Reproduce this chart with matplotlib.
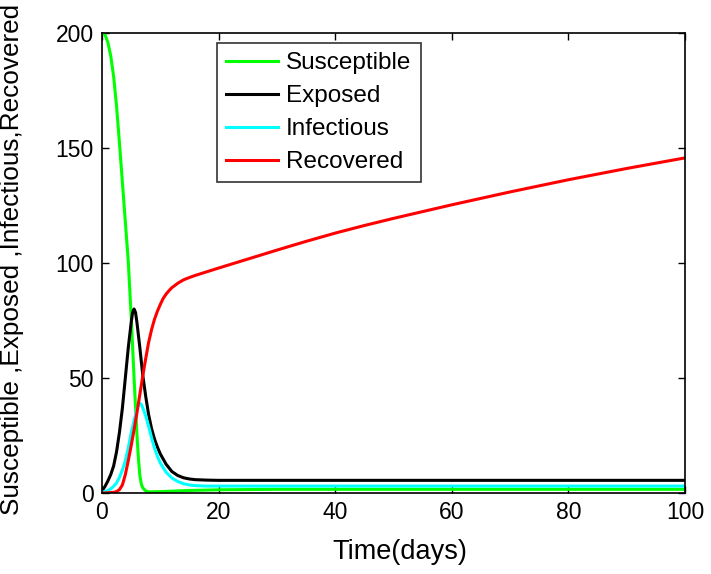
import matplotlib
matplotlib.use("Agg")
import matplotlib.pyplot as plt

plt.rcParams['font.family'] = ['Liberation Sans', 'DejaVu Sans']

t_s = [0, 0.5, 1, 1.5, 2, 2.5, 3, 3.5, 4, 4.5, 5, 5.5, 6, 6.25, 6.5, 6.75, 7, 7.5, 8,
       10, 12, 15, 20, 30, 100]
susceptible = [200, 199.3, 196, 190, 181, 168, 152, 135, 118, 101, 77, 50, 25, 15, 7.5, 3.8, 2.2, 0.9, 0.5,
               0.6, 0.8, 1.1, 1.4, 1.6, 1.6]

t_e = [0, 0.5, 1, 1.5, 2, 2.5, 3, 3.5, 4, 4.5, 5, 5.25, 5.5, 5.75, 6, 6.5, 7, 7.5, 8, 8.5, 9, 9.5,
       10, 11, 12, 13, 14, 15, 16, 17, 18, 20, 100]
exposed = [1, 2.8, 5.2, 8, 11.8, 18, 26.5, 37, 50, 63, 74, 78.5, 80, 78.5, 74, 63, 51, 42, 34, 28, 23.5, 20,
           17, 12.5, 9.3, 7.6, 6.6, 6.1, 5.8, 5.7, 5.6, 5.5, 5.5]

t_i = [0, 0.5, 1, 1.5, 2, 2.5, 3, 3.5, 4, 4.5, 5, 5.5, 6, 6.25, 6.5, 6.75, 7, 7.5, 8, 8.5, 9, 9.5,
       10, 11, 12, 13, 14, 15, 16, 18, 20, 100]
infectious = [0.3, 0.6, 1.1, 1.8, 2.9, 4.4, 6.8, 10, 14, 19.5, 26, 31.5, 36.5, 38.3, 39, 38.5, 37, 33.5, 29, 24,
              19.5, 16, 13, 9, 6.5, 5, 4, 3.5, 3.2, 3, 3, 3]

t_r = [0, 1, 2, 2.5, 3, 3.5, 4, 4.5, 5, 5.5, 6, 6.5, 7, 7.5, 8, 8.5, 9, 9.5, 10, 10.5, 11, 11.5, 12,
       13, 14, 15, 16, 18, 20, 25, 30, 35, 40, 45, 50, 60, 70, 80, 90, 100]
recovered = [0, 0.1, 0.3, 0.6, 1.5, 3.5, 8, 14, 20.5, 27.5, 35, 43, 51, 58.5, 65.5, 71, 75.5, 79, 82, 84.6,
             86.5, 88, 89.3, 91.2, 92.7, 93.7, 94.6, 96.2, 97.8, 101.7, 105.6, 109.4, 113, 116.3, 119.4,
             125.3, 130.9, 136.2, 141.1, 145.7]

labels = ['Susceptible', 'Exposed', 'Infectious', 'Recovered']
colors = ['#00ff00', '#000000', '#00ffff', '#ff0000']
xticks = [0, 20, 40, 60, 80, 100]
yticks = [0, 50, 100, 150, 200]

fig = plt.figure(figsize=(7.11, 5.74), dpi=100)
ax = fig.add_axes([102/711, 1 - 493/574, 583/711, 460/574])

for tt, y, lab, c in zip([t_s, t_e, t_i, t_r], [susceptible, exposed, infectious, recovered], labels, colors):
    ax.plot(tt, y, color=c, lw=2.2, label=lab, solid_joinstyle='round')

ax.set_xlim(0, 100)
ax.set_ylim(0, 200)
ax.set_xticks(xticks)
ax.set_yticks(yticks)
ax.tick_params(direction='in', top=True, right=True, labelsize=16.5, length=5, width=1, pad=6)
for s in ax.spines.values():
    s.set_linewidth(1.2)

ax.set_xlabel('Time(days)', fontsize=19.5)
ax.xaxis.set_label_coords(0.511, -0.1)
ax.set_ylabel('Susceptible ,Exposed ,Infectious,Recovered', fontsize=18.8)
ax.yaxis.set_label_coords(-0.134, 0.508)

leg = ax.legend(loc='upper left', bbox_to_anchor=(0.197, 0.978), fontsize=17.5, frameon=True,
                fancybox=False, edgecolor='black', handlelength=2.15, handletextpad=0.32,
                labelspacing=0.45, borderpad=0.38, borderaxespad=0)
leg.get_frame().set_linewidth(1.2)

fig.savefig('out.png', dpi=100)
